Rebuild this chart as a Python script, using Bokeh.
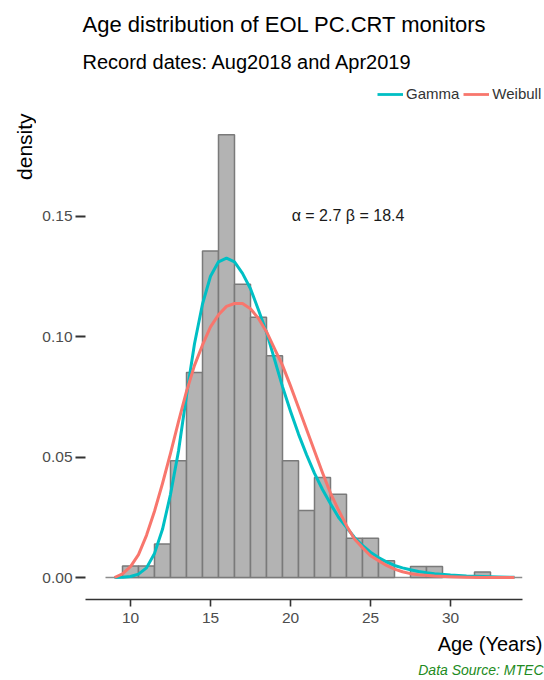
import math
from bokeh.plotting import figure
from bokeh.layouts import column, row
from bokeh.models import (Range1d, Label, Legend, LegendItem, FixedTicker,
                          PrintfTickFormatter)
from bokeh.embed import file_html
from bokeh.resources import INLINE

# ---------------- data ----------------
age_bins = list(range(10, 33))
bin_density = [0.0048, 0.0048, 0.0139, 0.0484, 0.0851, 0.1355, 0.1837, 0.1217,
               0.1080, 0.0920, 0.0484, 0.0278, 0.0415, 0.0345, 0.0163, 0.0163,
               0.0069, 0.0, 0.0046, 0.0046, 0.0, 0.0, 0.0023]

gamma_x = [9.0, 9.5, 10.0, 10.5, 11.0, 11.5, 12.0, 12.5, 13.0, 13.5, 14.0, 14.5,
           15.0, 15.5, 16.0, 16.5, 17.0, 17.5, 18.0, 18.5, 19.0, 19.5, 20.0, 20.5,
           21.0, 21.5, 22.0, 22.5, 23.0, 23.5, 24.0, 24.5, 25.0, 25.5, 26.0, 26.5,
           27.0, 27.5, 28.0, 28.5, 29.0, 30.0, 31.0, 32.0, 33.0, 34.0]
gamma_y = [0.0000, 0.0001, 0.0004, 0.0014, 0.0040, 0.0100, 0.0200, 0.0345, 0.0525,
           0.0755, 0.0970, 0.1135, 0.1250, 0.1310, 0.1325, 0.1310, 0.1262, 0.1198,
           0.1110, 0.1018, 0.0905, 0.0792, 0.0690, 0.0595, 0.0510, 0.0432, 0.0365,
           0.0306, 0.0250, 0.0208, 0.0166, 0.0133, 0.0105, 0.0083, 0.0065, 0.0050,
           0.0040, 0.0032, 0.0025, 0.0020, 0.0016, 0.0010, 0.0006, 0.0004, 0.0002,
           0.0001]

weibull_x = [9.0, 9.5, 10.0, 10.5, 11.0, 11.5, 12.0, 12.5, 13.0, 13.5, 14.0, 14.5,
             15.0, 15.5, 16.0, 16.5, 17.0, 17.5, 18.0, 18.5, 19.0, 19.5, 20.0, 20.5,
             21.0, 21.5, 22.0, 22.5, 23.0, 23.5, 24.0, 24.5, 25.0, 25.5, 26.0, 26.5,
             27.0, 27.5, 28.0, 29.0, 30.0, 31.0, 32.0, 33.0, 34.0]
weibull_y = [0.0000, 0.0015, 0.0045, 0.0095, 0.0175, 0.0275, 0.0390, 0.0515, 0.0647,
             0.0772, 0.0880, 0.0965, 0.1040, 0.1090, 0.1125, 0.1137, 0.1137, 0.1115,
             0.1075, 0.1020, 0.0950, 0.0880, 0.0795, 0.0705, 0.0615, 0.0525, 0.0435,
             0.0350, 0.0280, 0.0215, 0.0160, 0.0124, 0.0090, 0.0070, 0.0050, 0.0035,
             0.0024, 0.0016, 0.0011, 0.0006, 0.0003, 0.0001, 0.0000, 0.0000, 0.0000]

x_ticks = [10, 15, 20, 25, 30]
y_ticks = [0.0, 0.05, 0.10, 0.15]

series_names = ["Gamma", "Weibull"]
title_text = "Age distribution of EOL PC.CRT monitors"
subtitle_text = "Record dates: Aug2018 and Apr2019"
param_text = "\u03b1 = 2.7 \u03b2 = 18.4"
x_label = "Age (Years)"
y_label = "density"
source_text = "Data Source: MTEC"

# ---------------- layout ----------------
W, H = 544, 680
HEAD_H = 112          # header strip height
FOOT_TOP = 632        # footer strip starts here
STRIP_W = 36          # left strip width
FL, FR, FT, FB = 85, 522, 112, 599   # frame of main plot (canvas px)
PXX = 16.0      # px per year
PXY = 2410.0    # px per density unit
X0 = 10 - (130 - FL) / PXX
Y0 = -(FB - 577) / PXY

def X(px):
    return X0 + (px - FL) / PXX

def Y(py):
    return Y0 + (FB - py) / PXY

FONT = "Liberation Sans"
GAMMA_C = "#00BFC4"
WEIB_C = "#F8766D"


def blank(width, height):
    f = figure(width=width, height=height, output_backend="svg", toolbar_location=None,
               x_range=Range1d(0, width), y_range=Range1d(0, height),
               min_border=0, min_border_left=0, min_border_right=0,
               min_border_top=0, min_border_bottom=0)
    f.xaxis.visible = False
    f.yaxis.visible = False
    f.grid.visible = False
    f.outline_line_color = None
    f.background_fill_color = "white"
    f.border_fill_color = "white"
    return f


def lab(f, x, y, text, size, color="#000000", align="left", baseline="middle",
        angle=0.0, style="normal"):
    f.add_layout(Label(x=x, y=y, text=text, text_font=FONT,
                       text_font_size=size, text_color=color, text_align=align,
                       text_baseline=baseline, angle=angle, text_font_style=style))


# ---- header: title, subtitle, legend (canvas px; y counted up from strip bottom) ----
head = blank(W, HEAD_H)
lab(head, 82, HEAD_H - 23.5, title_text, "22px")
lab(head, 82, HEAD_H - 61, subtitle_text, "20px")
hg = head.line([-50, -40], [-50, -50], line_color=GAMMA_C, line_width=2.8)
hw = head.line([-50, -40], [-50, -50], line_color=WEIB_C, line_width=2.8)
legend = Legend(items=[LegendItem(label=series_names[0], renderers=[hg]),
                       LegendItem(label=series_names[1], renderers=[hw])],
                orientation="horizontal", location=(377, HEAD_H - 94 - 8),
                padding=0, margin=0, spacing=4, glyph_width=26, glyph_height=16,
                label_height=16, label_standoff=3, label_text_font=FONT,
                label_text_font_size="15px", label_text_color="#333333",
                background_fill_alpha=0, border_line_alpha=0)
head.add_layout(legend)

# ---- left strip: y axis title ----
left = blank(STRIP_W, FOOT_TOP - HEAD_H)
lab(left, 23.5, FOOT_TOP - HEAD_H - 1, y_label, "21px", align="right", angle=math.pi / 2)

# ---- main plot ----
p = figure(width=W - STRIP_W, height=FOOT_TOP - HEAD_H, output_backend="svg",
           toolbar_location=None,
           x_range=Range1d(X0, X(FR)), y_range=Range1d(Y0, Y(FT)),
           min_border_left=FL - STRIP_W, min_border_right=W - FR,
           min_border_top=0, min_border_bottom=FOOT_TOP - FB)
p.outline_line_color = None
p.xgrid.grid_line_color = None
p.ygrid.grid_line_color = None
p.background_fill_color = "white"
p.border_fill_color = "white"

p.segment(x0=[X(105)], y0=[0], x1=[X(522)], y1=[0], line_color="#8c8c8c", line_width=1.5)

hl, hr, ht = [], [], []
for c, d in zip(age_bins, bin_density):
    if d > 0:
        hl.append(c - 0.5); hr.append(c + 0.5); ht.append(d)
p.quad(left=hl, right=hr, bottom=0, top=ht, fill_color="#b3b3b3",
       line_color="#7a7a7a", line_width=1.5)

p.line(gamma_x, gamma_y, line_color=GAMMA_C, line_width=3, line_join="round")
p.line(weibull_x, weibull_y, line_color=WEIB_C, line_width=3, line_join="round")

xa = p.xaxis[0]
xa.ticker = FixedTicker(ticks=x_ticks)
xa.axis_line_color = "#333333"
xa.axis_line_width = 1.6
xa.major_tick_line_color = "#333333"
xa.major_tick_line_width = 1.6
xa.major_tick_out = 7
xa.major_tick_in = 0
xa.minor_tick_line_color = None
xa.major_label_standoff = 6
xa.major_label_text_font = FONT
xa.major_label_text_font_size = "15.5px"
xa.major_label_text_color = "#4d4d4d"

ya = p.yaxis[0]
ya.ticker = FixedTicker(ticks=y_ticks)
ya.formatter = PrintfTickFormatter(format="%.2f")
ya.axis_line_color = None
ya.major_tick_line_color = "#333333"
ya.major_tick_line_width = 1.8
ya.major_tick_out = 10
ya.major_tick_in = 0
ya.minor_tick_line_color = None
ya.major_label_standoff = 3
ya.major_label_text_font = FONT
ya.major_label_text_font_size = "15.5px"
ya.major_label_text_color = "#4d4d4d"

lab(p, X(347.5), Y(215), param_text, "16px", "#1a1a1a", align="center")

# ---- footer: x axis title and source ----
foot = blank(W, H - FOOT_TOP)
lab(foot, 542, H - 643, x_label, "20px", align="right")
lab(foot, 543, H - 669.5, source_text, "14px", "#228B22", align="right", style="italic")

layout = column(head, row(left, p, spacing=0), foot, spacing=0)
open("out.html", "w").write(file_html(layout, INLINE))
